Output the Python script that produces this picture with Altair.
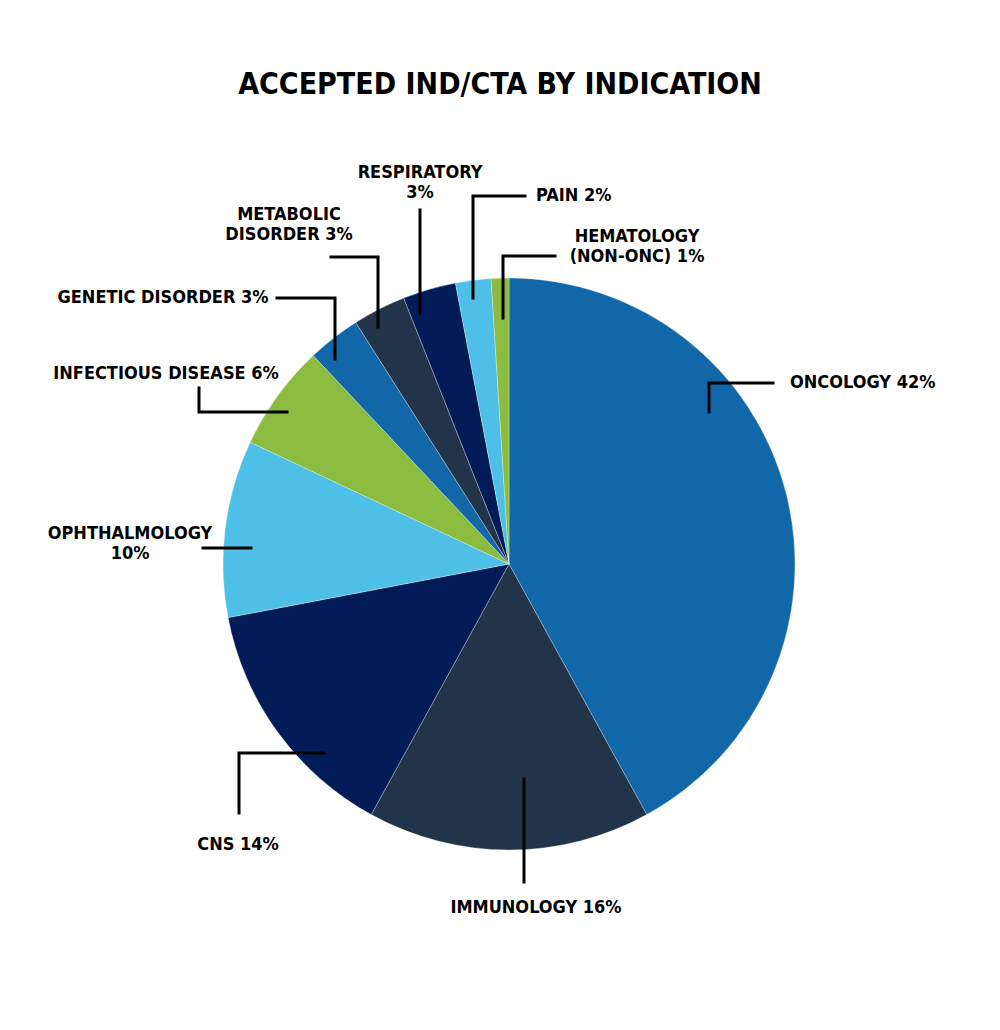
import altair as alt
import pandas as pd

# ---- data ----
categories = ["Oncology", "Immunology", "CNS", "Ophthalmology", "Infectious Disease",
              "Genetic Disorder", "Metabolic Disorder", "Respiratory", "Pain", "Hematology (Non-Onc)"]
values = [42, 16, 14, 10, 6, 3, 3, 3, 2, 1]
colors = ["#1167A8", "#21344A", "#031C57", "#4EBFE6", "#8BBC40",
          "#1167A8", "#21344A", "#031C57", "#4EBFE6", "#8BBC40"]
label_lines = [["ONCOLOGY 42%"], ["IMMUNOLOGY 16%"], ["CNS 14%"], ["OPHTHALMOLOGY", "10%"],
               ["INFECTIOUS DISEASE 6%"], ["GENETIC DISORDER 3%"], ["METABOLIC", "DISORDER 3%"],
               ["RESPIRATORY", "3%"], ["PAIN 2%"], ["HEMATOLOGY", "(NON-ONC) 1%"]]
title_text = "ACCEPTED IND/CTA BY INDICATION"

# ---- layout (pixel units relative to the pie centre, y downwards) ----
W, H = 984, 1014
CX, CY = 501, 556
R = 286
FONT = "DejaVu Sans Condensed"

# label anchor (x, y of first line), alignment
label_pos = [(281, -181, "left"), (27, 344, "center"), (-271, 281, "center"), (-379, -30, "center"),
             (-343, -190, "center"), (-346, -266, "center"), (-220, -349, "center"),
             (-89, -391, "center"), (27, -368, "left"), (128, -327, "center")]
line_gap = 20
# leader-line paths
leaders = [
    [(200, -152), (200, -181), (264, -181)],
    [(15, 215), (15, 318)],
    [(-185, 189), (-270, 189), (-270, 249)],
    [(-258, -16), (-306, -16)],
    [(-222, -152), (-310, -152), (-310, -176)],
    [(-174, -205), (-174, -266), (-232, -266)],
    [(-131, -237), (-131, -307), (-178, -307)],
    [(-89, -251), (-89, -354)],
    [(-36, -266), (-36, -368), (16, -368)],
    [(-6, -246), (-6, -308), (46, -308)],
]

pie_df = pd.DataFrame({"category": categories, "value": values, "order": list(range(len(values)))})

text_rows = []
for lines, (lx, ly, al) in zip(label_lines, label_pos):
    for i, t in enumerate(lines):
        text_rows.append({"x": lx, "y": ly + i * line_gap, "text": t, "align": al})
text_df = pd.DataFrame(text_rows)

lead_rows = []
for k, pts in enumerate(leaders):
    for j, (px, py) in enumerate(pts):
        lead_rows.append({"id": k, "o": j, "x": px, "y": py})
lead_df = pd.DataFrame(lead_rows)

xs = alt.Scale(domain=[-CX, W - CX])
ys = alt.Scale(domain=[-CY, H - CY], reverse=True)

pie = alt.Chart(pie_df).mark_arc(radius=R, stroke="#ffffff", strokeWidth=0.3).encode(
    theta=alt.Theta("value:Q", stack=True),
    order=alt.Order("order:Q"),
    color=alt.Color("category:N", scale=alt.Scale(domain=categories, range=colors), legend=None),
    x=alt.datum(0, type="quantitative", scale=xs, axis=None),
    y=alt.datum(0, type="quantitative", scale=ys, axis=None),
)

lead = alt.Chart(lead_df).mark_line(color="#000000", strokeWidth=3, strokeJoin="miter", strokeCap="square").encode(
    x=alt.X("x:Q", scale=xs, axis=None),
    y=alt.Y("y:Q", scale=ys, axis=None),
    detail="id:N",
    order="o:Q",
)

def text_layer(al):
    return alt.Chart(text_df[text_df["align"] == al]).mark_text(
        font=FONT, fontWeight="bold", fontSize=18, align=al, baseline="middle", color="#000000"
    ).encode(
        x=alt.X("x:Q", scale=xs, axis=None),
        y=alt.Y("y:Q", scale=ys, axis=None),
        text="text:N",
    )

title_df = pd.DataFrame({"x": [-9], "y": [-479], "text": [title_text]})
title = alt.Chart(title_df).mark_text(
    font=FONT, fontWeight="bold", fontSize=30, align="center", baseline="middle", color="#000000"
).encode(
    x=alt.X("x:Q", scale=xs, axis=None),
    y=alt.Y("y:Q", scale=ys, axis=None),
    text="text:N",
)

chart = alt.layer(pie, lead, text_layer("left"), text_layer("center"), title).properties(
    width=W, height=H, autosize=alt.AutoSizeParams(type="none"), padding=0, background="#ffffff"
).configure_view(stroke=None)

chart.save("out.html", embed_options={"renderer": "svg", "actions": False})
